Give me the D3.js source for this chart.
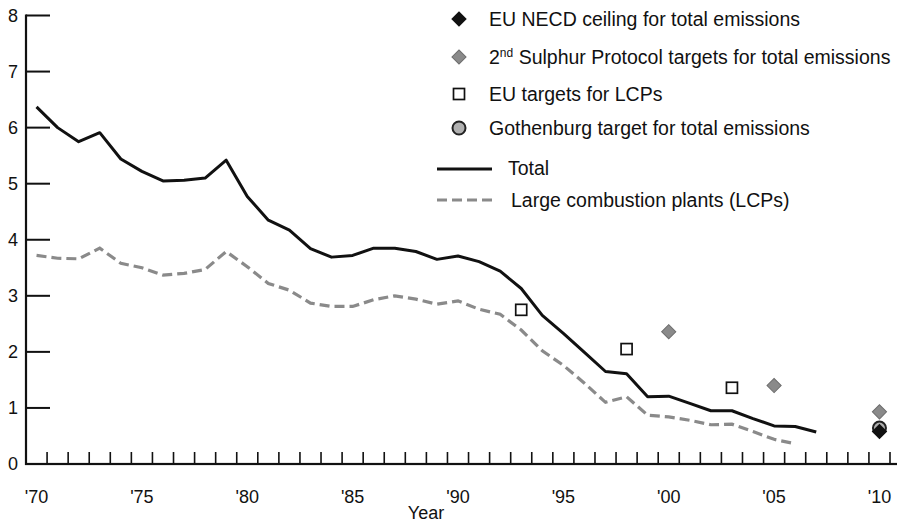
<!DOCTYPE html>
<html>
<head>
<meta charset="utf-8">
<script src="https://cdn.jsdelivr.net/npm/d3@7/dist/d3.min.js"></script>
<style>
  html, body { margin: 0; padding: 0; background: #fff; }
  svg { display: block; font-family: "Liberation Sans", Arial, sans-serif; }
</style>
</head>
<body>
<svg id="chart" width="902" height="525"></svg>
<script>
// SO2 emissions (million tonnes), 1970-2007
const years = d3.range(1970, 2008);
const totalEmissions = [
  6.37, 6.00, 5.75, 5.91, 5.44, 5.22, 5.05, 5.06, 5.10, 5.42,
  4.77, 4.35, 4.17, 3.84, 3.69, 3.72, 3.85, 3.85, 3.79, 3.65,
  3.71, 3.61, 3.44, 3.13, 2.65, 2.33, 1.99, 1.65, 1.61, 1.20,
  1.21, 1.08, 0.95, 0.95, 0.81, 0.68, 0.67, 0.57
];
const lcpYears = d3.range(1970, 2007);
const lcpEmissions = [
  3.72, 3.67, 3.66, 3.85, 3.58, 3.50, 3.37, 3.40, 3.47, 3.79,
  3.52, 3.22, 3.10, 2.87, 2.81, 2.81, 2.93, 3.00, 2.94, 2.85,
  2.91, 2.76, 2.67, 2.39, 2.02, 1.76, 1.44, 1.10, 1.20, 0.87,
  0.84, 0.78, 0.70, 0.71, 0.58, 0.44, 0.36
];

// Targets
const lcpTargetYears = [1993, 1998, 2003];
const lcpTargets = [2.75, 2.05, 1.36];
const sulphurYears = [2000, 2005, 2010];
const sulphurTargets = [2.36, 1.40, 0.93];
const gothenburgYears = [2010];
const gothenburgTargets = [0.64];
const necdYears = [2010];
const necdTargets = [0.58];

// Axis labelling
const yTicks = [0, 1, 2, 3, 4, 5, 6, 7, 8];
const xLabelYears = [1970, 1975, 1980, 1985, 1990, 1995, 2000, 2005, 2010];
const xLabels = ["'70", "'75", "'80", "'85", "'90", "'95", "'00", "'05", "'10"];

const svg = d3.select("#chart");
const axisFont = 18;
const legendFont = 19.5;

const x = d3.scaleLinear().domain([1969.5, 2010.5]).range([26, 890]);
const y = d3.scaleLinear().domain([0, 8]).range([464, 15.5]);

// Y axis: inward ticks at each unit
const gy = svg.append("g").attr("class", "y-axis");
gy.selectAll("rect.ytick").data(yTicks).join("rect")
  .attr("class", "ytick")
  .attr("x", x.range()[0]).attr("width", 24)
  .attr("y", d => y(d) - 1).attr("height", 2)
  .attr("fill", "#111");
gy.append("rect")
  .attr("x", x.range()[0] - 1.1).attr("width", 2.2)
  .attr("y", y(8) - 1).attr("height", y(0) - y(8) + 2)
  .attr("fill", "#111");
gy.selectAll("text").data(yTicks).join("text")
  .attr("x", 13).attr("y", d => y(d)).attr("dy", "0.36em")
  .attr("text-anchor", "middle").attr("font-size", axisFont).attr("fill", "#111")
  .text(d => d);

// X axis: ticks between years, pointing up
const xTickVals = d3.range(1970.5, 2011, 1);
const gx = svg.append("g").attr("class", "x-axis");
gx.selectAll("rect.xtick").data(xTickVals).join("rect")
  .attr("class", "xtick")
  .attr("x", d => x(d) - 0.8).attr("width", 1.6)
  .attr("y", y(0) - 12).attr("height", 12)
  .attr("fill", "#111");
gx.append("rect")
  .attr("x", x.range()[0] - 1).attr("width", 897 - x.range()[0] + 1)
  .attr("y", y(0) - 1.1).attr("height", 2.2)
  .attr("fill", "#111");
gx.selectAll("text").data(xLabelYears).join("text")
  .attr("x", d => x(d)).attr("y", 497).attr("dy", "0.36em")
  .attr("text-anchor", "middle").attr("font-size", axisFont).attr("fill", "#111")
  .text((d, i) => xLabels[i]);
svg.append("text").attr("x", 426).attr("y", 513).attr("dy", "0.36em")
  .attr("text-anchor", "middle").attr("font-size", axisFont).attr("fill", "#111")
  .text("Year");

// Series lines
const line = d3.line().x(d => x(d[0])).y(d => y(d[1]));
svg.append("path")
  .datum(lcpYears.map((yr, i) => [yr, lcpEmissions[i]]))
  .attr("d", line).attr("fill", "none")
  .attr("stroke", "#8a8a8a").attr("stroke-width", 3.2)
  .attr("stroke-dasharray", "10,5");
svg.append("path")
  .datum(years.map((yr, i) => [yr, totalEmissions[i]]))
  .attr("d", line).attr("fill", "none")
  .attr("stroke", "#111").attr("stroke-width", 3)
  .attr("stroke-linejoin", "round");

// Marker shapes
const diamond = d3.symbol().type(d3.symbolSquare).size(100)();
function drawDiamond(g, cx, cy, fill) {
  g.append("path").attr("d", diamond)
    .attr("transform", `translate(${cx},${cy}) rotate(45)`)
    .attr("fill", fill).attr("stroke", fill === "#111" ? "#111" : "#6e6e6e").attr("stroke-width", 1);
}
function drawSquare(g, cx, cy) {
  g.append("rect").attr("x", cx - 5.5).attr("y", cy - 5.5)
    .attr("width", 11).attr("height", 11)
    .attr("fill", "#fff").attr("stroke", "#111").attr("stroke-width", 1.7);
}
function drawCircle(g, cx, cy) {
  g.append("circle").attr("cx", cx).attr("cy", cy).attr("r", 6.5)
    .attr("fill", "#b0b0b0").attr("stroke", "#222").attr("stroke-width", 2);
}

const marks = svg.append("g");
lcpTargetYears.forEach((yr, i) => drawSquare(marks, x(yr), y(lcpTargets[i])));
sulphurYears.forEach((yr, i) => drawDiamond(marks, x(yr), y(sulphurTargets[i]), "#8a8a8a"));
gothenburgYears.forEach((yr, i) => drawCircle(marks, x(yr), y(gothenburgTargets[i])));
necdYears.forEach((yr, i) => drawDiamond(marks, x(yr), y(necdTargets[i]), "#111"));

// Legend
const legend = svg.append("g").attr("font-size", legendFont).attr("fill", "#111");
drawDiamond(legend, 459, 19, "#111");
drawDiamond(legend, 459, 57, "#8a8a8a");
drawSquare(legend, 459, 94);
drawCircle(legend, 459, 128);
legend.append("line").attr("x1", 437).attr("x2", 492).attr("y1", 169).attr("y2", 169)
  .attr("stroke", "#111").attr("stroke-width", 3);
legend.append("line").attr("x1", 437).attr("x2", 492).attr("y1", 200).attr("y2", 200)
  .attr("stroke", "#8a8a8a").attr("stroke-width", 3.2).attr("stroke-dasharray", "10,5");

const legendText = (tx, ty) => legend.append("text").attr("x", tx).attr("y", ty).attr("dy", "0.36em");
legendText(489, 19).text("EU NECD ceiling for total emissions");
const t2 = legendText(489, 57);
t2.append("tspan").text("2");
t2.append("tspan").attr("font-size", 12).attr("dy", "-0.55em").text("nd");
t2.append("tspan").attr("dy", "0.36em").text(" Sulphur Protocol targets for total emissions");
legendText(489, 94).text("EU targets for LCPs");
legendText(489, 128).text("Gothenburg target for total emissions");
legendText(508, 168).text("Total");
legendText(511, 200).text("Large combustion plants (LCPs)");
</script>
</body>
</html>
